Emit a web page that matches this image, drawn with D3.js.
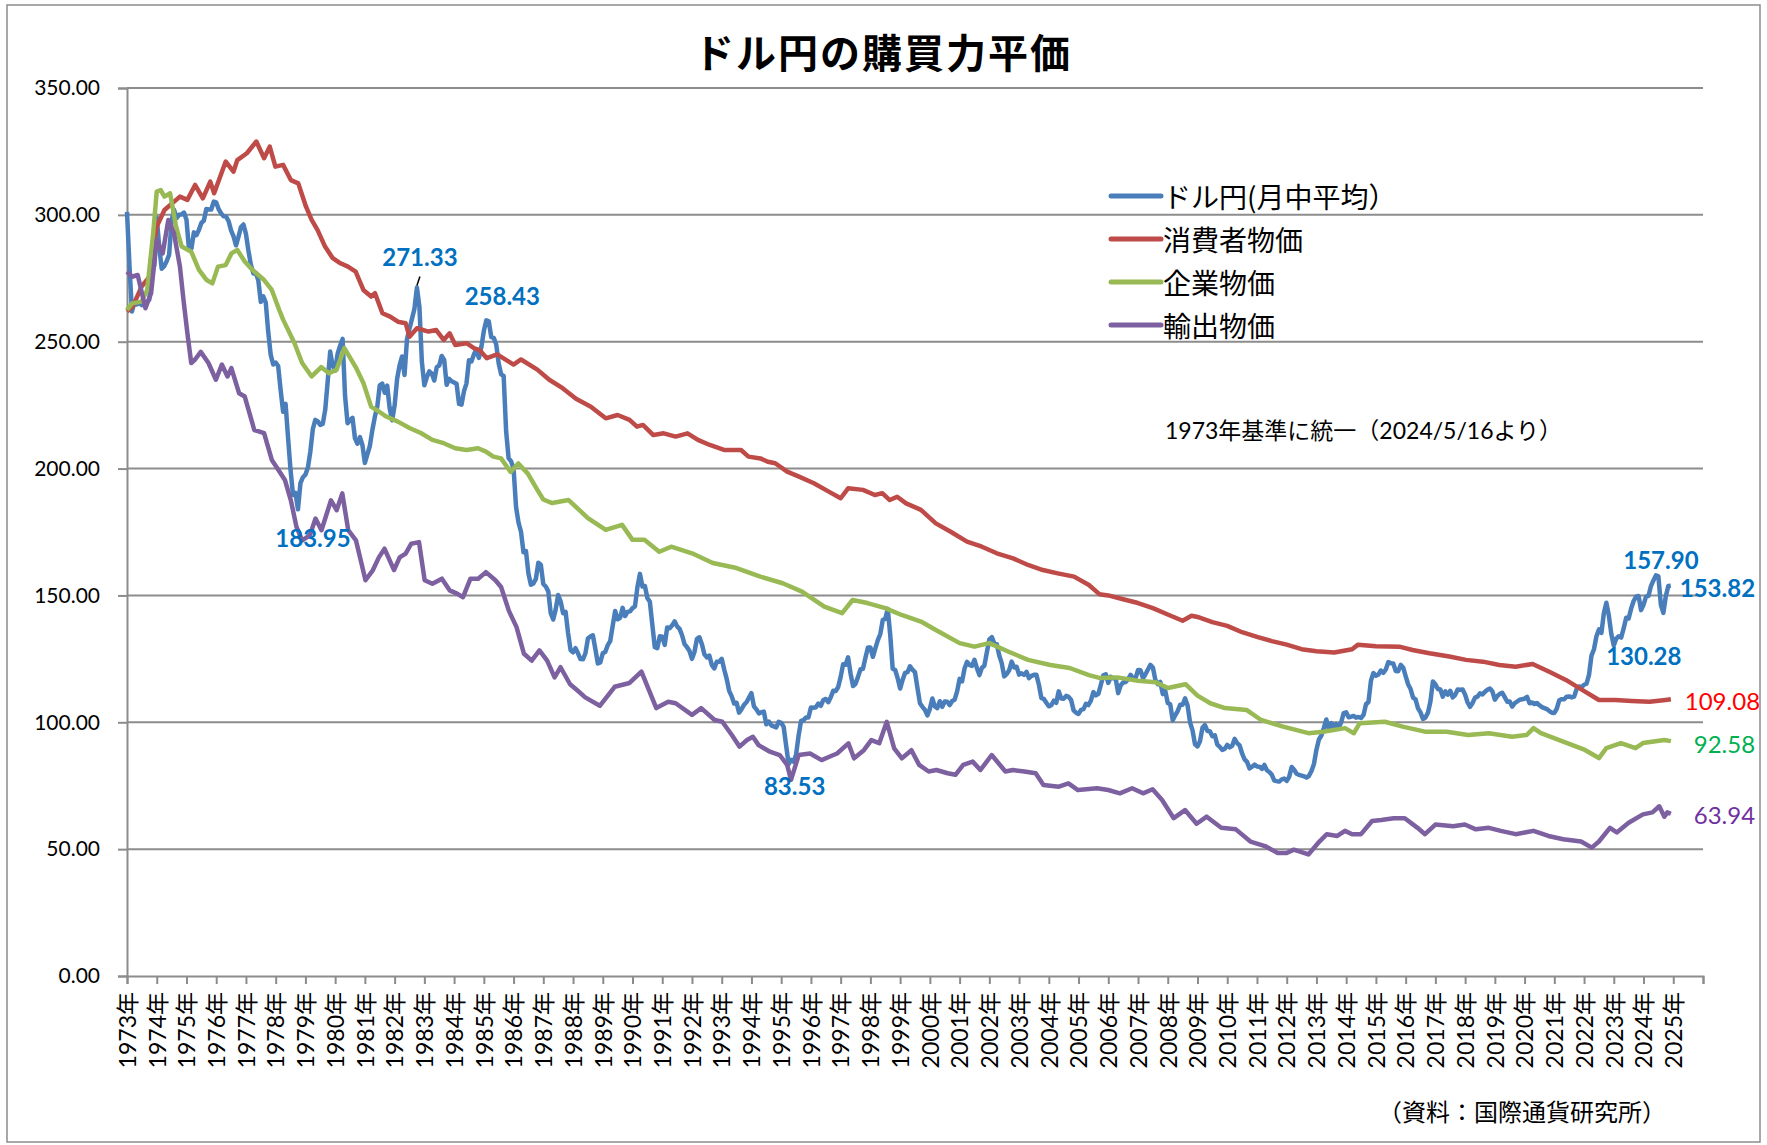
<!DOCTYPE html>
<meta charset="utf-8">
<style>
  body { margin: 0; background: #fff; }
  svg text { font-family: Lato, "Noto Sans CJK JP", sans-serif; }
</style>
<svg width="1767" height="1145"></svg>
<script src="https://d3js.org/d3.v7.min.js"></script>
<script>

// ---- data ----
var title = "ドル円の購買力平価";
var seriesNames = ["ドル円(月中平均）", "消費者物価", "企業物価", "輸出物価"];
var note = "1973年基準に統一（2024/5/16より）";
var source = "（資料：国際通貨研究所）";

var yTicks = [0, 50, 100, 150, 200, 250, 300, 350];
var tickYears = d3.range(1973, 2027);

// ドル円 monthly average, Jan 1973 - Dec 2024
var usdjpy = [
  301.2,280.0,261.9,265.5,264.7,265.4,264.4,265.4,265.5,266.6,279.0,280.0,
  299.0,287.5,278.8,279.8,281.7,284.3,297.7,302.0,298.7,300.0,300.1,300.9,
  298.1,286.5,286.8,293.1,292.0,294.0,296.8,297.7,302.3,302.1,302.1,305.2,
  304.9,302.2,300.6,299.4,299.3,297.5,293.9,291.5,288.0,291.4,295.2,296.2,
  292.5,285.9,280.3,276.9,277.1,274.1,265.7,267.9,265.4,253.8,244.8,241.0,
  241.8,240.4,231.0,222.4,225.5,212.2,199.4,189.6,190.4,183.95,194.3,196.6,
  197.6,200.4,206.8,215.6,219.2,218.6,217.2,217.6,223.2,234.5,246.1,240.5,
  238.6,245.3,248.4,251.1,228.6,217.9,219.0,220.0,211.9,209.8,212.4,209.3,
  202.2,205.6,208.9,215.1,220.3,224.4,232.8,233.5,229.9,232.7,223.8,219.0,
  224.9,235.3,240.7,244.2,236.9,251.1,255.1,259.0,263.0,271.33,263.8,242.0,
  232.8,236.0,238.3,237.5,234.7,240.0,240.6,244.4,242.8,233.0,235.4,234.4,
  233.9,233.4,225.5,225.2,230.5,233.6,242.7,242.2,245.0,246.9,243.6,247.9,
  254.2,258.43,258.0,251.8,251.5,248.9,241.4,237.1,236.5,214.7,204.1,202.8,
  200.1,184.9,178.7,175.1,167.0,167.5,158.6,154.2,154.7,156.5,162.9,162.1,
  154.5,153.5,151.6,143.0,140.5,144.5,150.2,147.6,143.0,143.5,135.2,128.5,
  127.6,129.2,127.2,124.9,124.8,127.2,133.0,133.8,134.3,128.9,123.2,123.6,
  127.2,127.7,130.4,132.0,138.0,143.9,140.6,141.2,145.1,141.9,143.5,143.7,
  145.0,145.7,153.4,158.5,153.5,153.7,149.0,147.5,138.4,129.6,129.2,133.9,
  133.7,130.5,137.4,137.1,138.2,139.8,137.8,136.8,134.3,130.8,129.6,128.1,
  125.0,127.7,132.9,133.5,130.8,126.8,125.6,126.3,122.6,121.2,123.9,123.9,
  125.0,120.8,117.1,112.4,110.3,107.4,107.7,103.8,105.2,106.9,107.9,109.7,
  111.5,106.3,105.1,103.5,104.0,104.2,99.2,100.3,98.8,98.4,98.0,100.2,
  99.8,98.2,90.8,83.53,85.2,84.5,87.2,94.6,100.5,100.8,101.9,101.9,
  105.8,105.7,105.9,107.4,106.5,108.8,109.2,107.9,109.9,112.4,112.3,113.9,
  117.9,122.9,122.7,125.6,119.2,114.3,115.2,117.9,120.9,121.1,125.4,129.5,
  129.5,125.8,129.1,132.4,134.8,140.4,140.7,144.7,134.5,121.1,120.6,117.4,
  113.3,116.7,119.5,119.8,122.1,120.7,119.8,113.5,107.5,106.1,104.9,102.7,
  105.3,109.4,106.3,105.6,108.3,106.1,108.2,108.1,106.8,108.4,108.9,112.2,
  117.1,116.1,121.2,123.8,122.6,122.2,124.6,121.3,118.6,121.5,122.3,127.6,
  132.7,133.6,131.1,130.8,126.3,123.3,118.1,119.0,120.5,123.9,121.6,121.9,
  118.8,119.3,118.7,119.9,117.4,118.3,118.7,118.7,114.8,109.5,109.2,107.7,
  106.3,106.7,108.5,107.7,112.2,109.4,109.3,110.4,110.0,108.8,104.7,103.8,
  103.3,104.9,105.2,107.3,106.8,108.6,111.9,110.6,111.2,114.8,118.5,118.9,
  115.5,117.9,117.3,117.1,111.5,114.6,115.7,115.9,117.0,118.7,117.3,117.3,
  120.6,120.5,117.3,118.9,120.8,122.6,121.6,116.7,115.0,115.9,111.1,112.4,
  107.6,107.1,100.8,102.7,104.4,106.9,106.9,109.4,106.6,100.0,96.8,91.3,
  90.5,92.5,97.8,98.9,96.6,96.5,94.5,94.9,91.2,90.3,89.1,89.5,
  91.1,90.1,90.7,93.5,91.8,90.9,87.7,85.4,84.4,81.8,82.5,83.3,
  82.6,82.5,81.6,83.2,81.1,80.4,79.3,77.0,76.8,76.7,77.5,77.8,
  76.9,78.5,82.4,81.3,79.7,79.3,79.0,78.7,78.2,78.9,80.8,83.6,
  89.2,93.2,94.8,97.8,101.1,97.3,99.7,97.8,99.3,97.8,100.1,103.6,
  103.9,102.0,102.2,102.5,101.8,102.1,101.7,102.9,107.1,108.0,116.4,119.4,
  118.3,118.8,120.4,119.5,120.8,123.7,123.3,123.2,120.2,120.1,122.6,121.6,
  118.2,115.0,113.1,109.7,109.0,105.5,103.9,101.3,101.9,103.8,108.2,116.1,
  115.0,113.1,112.9,110.1,112.2,110.9,112.4,109.8,110.8,112.9,112.8,112.9,
  110.9,107.8,106.1,107.6,109.7,110.1,111.4,111.0,112.0,112.8,113.3,112.2,
  108.9,110.4,111.2,111.6,109.9,108.1,108.2,106.2,107.5,108.2,108.9,109.1,
  109.3,110.0,107.5,107.8,107.2,107.6,106.7,106.0,105.6,105.2,104.4,103.8,
  103.7,105.4,108.7,109.1,109.1,110.1,110.2,109.8,110.1,113.1,114.1,113.8,
  114.8,115.2,118.7,126.3,128.8,133.9,136.6,135.2,143.1,147.1,142.1,134.8,
  130.28,133.0,133.9,133.4,137.1,141.2,140.9,144.8,147.8,149.5,149.8,144.2,
  146.3,149.5,149.8,153.7,155.9,157.9,157.5,146.3,143.1,149.7,153.7,153.82
];

// [year, value]
var cpiPPP = [[1973.0,261.9],[1973.2,264],[1973.49,271.7],[1973.75,275.6],[1974.0,295.4],[1974.26,301.9],[1974.78,307.2],[1975.03,305.9],[1975.29,311.8],[1975.55,306.5],[1975.8,313.1],[1975.93,308.5],[1976.32,321.0],[1976.58,317.0],[1976.71,321.6],[1977.03,324.3],[1977.35,328.9],[1977.61,322.3],[1977.8,326.9],[1977.99,319.0],[1978.25,319.7],[1978.51,313.7],[1978.76,312.4],[1979.02,303.2],[1979.21,298.0],[1979.41,294.0],[1979.66,287.5],[1979.92,282.9],[1980.18,280.9],[1980.43,279.6],[1980.69,277.6],[1980.95,270.4],[1981.21,267.8],[1981.34,269.1],[1981.59,261.2],[1981.85,259.9],[1982.11,257.9],[1982.37,257.3],[1982.5,252.0],[1982.75,255.3],[1983.14,254.0],[1983.4,254.6],[1983.65,250.7],[1983.85,253.3],[1984.04,248.7],[1984.42,249.4],[1984.68,247.4],[1984.85,246.8],[1985.1,243.5],[1985.45,245.0],[1986.0,241.0],[1986.25,243.0],[1986.8,239.0],[1987.2,235.0],[1987.65,231.7],[1988.1,227.5],[1988.6,224.4],[1989.1,219.8],[1989.5,221.1],[1989.9,219.2],[1990.15,216.5],[1990.35,217.2],[1990.7,213.2],[1991.05,213.9],[1991.45,212.6],[1991.85,213.9],[1992.2,211.3],[1992.6,209.3],[1993.1,207.3],[1993.65,207.3],[1993.9,204.7],[1994.3,204.0],[1994.55,202.7],[1994.8,202.1],[1995.2,198.8],[1995.6,196.8],[1996.1,194.2],[1996.6,190.9],[1997.0,188.3],[1997.25,192.2],[1997.75,191.6],[1998.15,189.6],[1998.4,190.3],[1998.65,187.6],[1998.9,188.9],[1999.2,186.3],[1999.7,183.7],[2000.2,178.4],[2000.7,175.1],[2001.25,171.2],[2001.75,169.2],[2002.25,166.6],[2002.8,164.6],[2003.3,162.0],[2003.8,160.0],[2004.3,158.7],[2004.85,157.4],[2005.35,154.1],[2005.7,150.5],[2006.0,150.0],[2006.5,148.5],[2007.0,147.0],[2007.5,145.0],[2008.0,142.5],[2008.5,140.0],[2008.8,142.0],[2009.0,141.5],[2009.5,139.5],[2010.0,138.0],[2010.5,135.5],[2011.0,133.7],[2011.5,132.0],[2012.0,130.6],[2012.5,128.8],[2013.0,128.0],[2013.6,127.5],[2014.2,128.8],[2014.4,130.6],[2015.0,130.0],[2015.79,129.8],[2016.23,128.5],[2016.8,127.2],[2017.47,125.9],[2018.03,124.6],[2018.6,123.9],[2019.15,122.6],[2019.7,121.9],[2020.27,123.0],[2020.83,119.9],[2021.39,116.7],[2021.95,112.7],[2022.5,108.8],[2023.06,108.8],[2023.6,108.4],[2024.2,108.1],[2024.74,108.8],[2024.92,109.08]];

var ppiPPP = [[1973.0,262.5],[1973.17,265.1],[1973.49,265.8],[1973.68,270.4],[1973.88,292.7],[1974.0,309.2],[1974.13,309.8],[1974.26,307.2],[1974.45,308.5],[1974.65,295.4],[1974.84,287.5],[1975.16,285.5],[1975.42,278.3],[1975.68,274.3],[1975.87,273.0],[1976.06,279.6],[1976.32,280.2],[1976.51,284.8],[1976.71,286.2],[1976.96,281.6],[1977.22,278.3],[1977.61,274.3],[1977.87,270.4],[1978.12,262.5],[1978.25,258.7],[1978.63,249.5],[1978.89,241.6],[1979.21,236.3],[1979.53,240.0],[1979.79,237.6],[1980.05,239.0],[1980.31,247.5],[1980.69,240.0],[1980.95,233.7],[1981.21,224.4],[1981.47,222.5],[1981.72,220.5],[1982.11,218.5],[1982.5,216.0],[1982.88,214.0],[1983.27,211.3],[1983.65,210.0],[1984.04,208.0],[1984.42,207.3],[1984.81,208.0],[1985.07,206.7],[1985.32,204.7],[1985.58,204.0],[1985.9,198.7],[1986.16,202.0],[1986.48,198.0],[1986.8,191.6],[1987.0,187.8],[1987.3,186.4],[1987.85,187.6],[1988.5,180.5],[1989.1,175.8],[1989.65,177.8],[1990.0,171.9],[1990.4,171.9],[1990.9,167.2],[1991.3,169.2],[1992.0,166.6],[1992.7,162.8],[1993.5,160.8],[1994.3,157.4],[1995.05,154.8],[1995.7,151.5],[1996.45,145.6],[1997.05,143.0],[1997.4,148.2],[1997.9,147.0],[1998.5,145.0],[1999.05,142.3],[1999.7,139.7],[2000.2,136.4],[2001.0,131.2],[2001.5,129.8],[2002.0,131.2],[2002.65,127.8],[2003.3,124.6],[2004.05,122.6],[2004.7,121.4],[2005.35,118.6],[2005.7,117.5],[2006.3,117.7],[2007.0,116.4],[2007.6,115.8],[2008.0,113.5],[2008.6,115.0],[2009.0,110.5],[2009.43,107.5],[2009.92,105.6],[2010.66,104.8],[2011.14,100.9],[2011.88,98.3],[2012.73,95.7],[2013.23,96.3],[2013.96,97.7],[2014.26,95.7],[2014.45,99.6],[2015.3,100.2],[2015.9,98.3],[2016.65,96.3],[2017.38,96.3],[2018.1,95.0],[2018.8,95.7],[2019.58,94.3],[2020.07,95.0],[2020.3,97.7],[2020.55,95.7],[2021.3,92.4],[2022.03,89.1],[2022.5,85.9],[2022.75,89.8],[2023.24,91.8],[2023.73,89.8],[2023.98,91.8],[2024.7,93.0],[2024.92,92.58]];

var exportPPP = [[1973.0,277.6],[1973.17,275.6],[1973.36,276.3],[1973.62,263.2],[1973.81,269.1],[1974.0,290.1],[1974.2,284.8],[1974.39,298.0],[1974.58,292.7],[1974.78,279.6],[1974.9,266.4],[1975.03,253.4],[1975.16,241.6],[1975.29,243.0],[1975.48,246.0],[1975.74,241.6],[1975.99,235.0],[1976.19,241.0],[1976.38,236.3],[1976.51,239.6],[1976.77,229.7],[1976.96,228.4],[1977.28,215.2],[1977.61,214.0],[1977.87,203.4],[1978.06,200.0],[1978.31,195.5],[1978.51,187.5],[1978.7,177.0],[1978.89,171.7],[1979.15,173.7],[1979.34,180.3],[1979.54,175.7],[1979.86,187.5],[1980.05,183.6],[1980.24,190.2],[1980.44,175.7],[1980.7,171.7],[1981.02,156.0],[1981.27,160.0],[1981.47,165.0],[1981.66,168.4],[1981.98,160.0],[1982.17,165.0],[1982.37,166.5],[1982.56,170.4],[1982.82,171.0],[1983.01,156.0],[1983.27,154.6],[1983.59,156.6],[1983.85,152.0],[1984.1,150.7],[1984.3,149.3],[1984.55,156.6],[1984.81,156.6],[1985.07,159.2],[1985.39,156.0],[1985.58,153.3],[1985.84,144.0],[1986.1,137.5],[1986.35,127.0],[1986.61,124.3],[1986.87,128.3],[1987.13,124.3],[1987.38,117.7],[1987.58,121.7],[1987.9,115.0],[1988.15,112.5],[1988.41,109.8],[1988.9,106.5],[1989.4,114.0],[1989.9,115.5],[1990.3,120.0],[1990.8,105.6],[1991.2,108.1],[1991.45,107.5],[1992.0,102.9],[1992.31,105.6],[1992.76,100.9],[1993.02,100.2],[1993.34,95.0],[1993.6,90.4],[1993.85,93.0],[1994.05,94.3],[1994.24,91.0],[1994.62,88.4],[1994.95,87.1],[1995.2,83.2],[1995.33,77.3],[1995.59,87.1],[1995.97,87.7],[1996.36,85.1],[1996.62,86.4],[1996.88,87.7],[1997.26,91.7],[1997.45,85.8],[1997.78,89.0],[1998.03,93.0],[1998.3,91.8],[1998.55,100.2],[1998.8,89.7],[1999.06,85.8],[1999.38,89.0],[1999.64,83.2],[1999.96,80.6],[2000.22,81.2],[2000.6,79.9],[2000.86,79.3],[2001.12,83.2],[2001.44,84.5],[2001.7,81.2],[2002.08,87.1],[2002.54,80.6],[2002.79,81.2],[2003.18,80.6],[2003.56,79.9],[2003.82,75.3],[2004.34,74.6],[2004.66,75.9],[2004.98,73.3],[2005.62,74.0],[2006.0,73.3],[2006.39,72.0],[2006.8,74.0],[2007.17,72.0],[2007.49,73.6],[2007.81,69.4],[2008.2,62.2],[2008.58,65.4],[2008.97,60.0],[2009.31,62.8],[2009.8,58.4],[2010.29,57.8],[2010.78,53.0],[2011.27,51.2],[2011.7,48.5],[2012.0,48.5],[2012.24,49.8],[2012.73,47.9],[2013.1,53.0],[2013.35,55.9],[2013.7,55.2],[2013.96,57.2],[2014.2,55.9],[2014.5,55.9],[2014.87,61.1],[2015.18,61.5],[2015.6,62.2],[2015.97,62.2],[2016.4,58.4],[2016.65,55.9],[2017.0,59.7],[2017.6,59.0],[2017.99,59.7],[2018.36,57.8],[2018.8,58.4],[2019.2,57.2],[2019.7,55.9],[2020.3,57.2],[2020.8,55.2],[2021.3,53.9],[2021.9,53.0],[2022.26,50.6],[2022.5,53.0],[2022.87,58.4],[2023.1,56.6],[2023.5,60.4],[2023.98,63.7],[2024.3,64.5],[2024.53,66.9],[2024.7,62.8],[2024.8,64.5],[2024.92,63.94]];

// ---- chart ----
var svg = d3.select("svg"),
    width = 1767,
    height = 1145;

var x = d3.scaleLinear().domain([1973, 2026]).range([127, 1703]);
var y = d3.scaleLinear().domain([0, 350]).range([976, 88]);

var colors = ["#4a7ebb", "#be4b48", "#98b954", "#7d60a0"];
var labelColors = ["#0070c0", "#ff0000", "#00b050", "#7030a0"];
var gridColor = "#8c8c8c";

svg.append("rect")
    .attr("x", 7).attr("y", 5)
    .attr("width", width - 14).attr("height", height - 8)
    .attr("fill", "#fff")
    .attr("stroke", gridColor).attr("stroke-width", 1.5);

svg.append("text")
    .attr("x", 883).attr("y", 51)
    .attr("text-anchor", "middle")
    .attr("dominant-baseline", "central")
    .style("font-family", "'Noto Sans CJK JP'")
    .style("font-size", "40px")
    .style("font-weight", "bold")
    .style("letter-spacing", "2px")
    .style("fill", "#000")
    .text(title);

// gridlines
svg.append("g")
  .selectAll("line")
  .data(yTicks.slice(1))
  .join("line")
    .attr("x1", x(1973)).attr("x2", x(2026))
    .attr("y1", function(d) { return y(d); })
    .attr("y2", function(d) { return y(d); })
    .attr("stroke", gridColor).attr("stroke-width", 2);

// y axis
var yAxis = svg.append("g")
    .attr("transform", "translate(" + x(1973) + ",0)")
    .call(d3.axisLeft(y).tickValues(yTicks).tickFormat(d3.format(".2f")).tickSize(9).tickPadding(18));
yAxis.selectAll("path, line").attr("stroke", gridColor).attr("stroke-width", 2);
yAxis.selectAll("text").style("font-size", "21px").style("fill", "#000");

// x axis
var xAxis = svg.append("g")
    .attr("transform", "translate(0," + y(0) + ")")
    .call(d3.axisBottom(x).tickValues(tickYears)
      .tickFormat(function(d) { return d < 2026 ? d + "年" : ""; })
      .tickSize(8));
xAxis.selectAll("path, line").attr("stroke", gridColor).attr("stroke-width", 2);
xAxis.selectAll("text")
    .attr("transform", "rotate(-90)")
    .attr("x", -16).attr("y", 0).attr("dy", "0.36em")
    .style("text-anchor", "end")
    .style("font-size", "23px")
    .style("fill", "#000");

// lines
var line = d3.line()
    .x(function(d) { return x(d[0]); })
    .y(function(d) { return y(d[1]); });

var blue = usdjpy.map(function(v, i) { return [1973 + i / 12, v]; });
var series = [blue, cpiPPP, ppiPPP, exportPPP];

svg.append("g")
  .selectAll("path")
  .data(series)
  .join("path")
    .attr("d", line)
    .attr("fill", "none")
    .attr("stroke", function(d, i) { return colors[i]; })
    .attr("stroke-width", 4.5)
    .attr("stroke-linejoin", "round");

// legend
var legend = svg.append("g")
  .selectAll("g")
  .data(seriesNames)
  .join("g")
    .attr("transform", function(d, i) { return "translate(1111," + (196 + i * 43) + ")"; });
legend.append("line")
    .attr("x1", 0).attr("x2", 50)
    .attr("stroke", function(d, i) { return colors[i]; })
    .attr("stroke-width", 5)
    .attr("stroke-linecap", "round");
legend.append("text")
    .attr("x", 52)
    .attr("dominant-baseline", "central")
    .style("font-family", "'Noto Sans CJK JP'")
    .style("font-size", "28px")
    .style("fill", "#000")
    .text(function(d) { return d; });

svg.append("text")
    .attr("x", 1165).attr("y", 430)
    .attr("dominant-baseline", "central")
    .style("font-size", "23px")
    .style("fill", "#000")
    .text(note);

svg.append("text")
    .attr("x", 1666).attr("y", 1110)
    .attr("text-anchor", "end")
    .attr("dominant-baseline", "central")
    .style("font-family", "'Noto Sans CJK JP'")
    .style("font-size", "24px")
    .style("fill", "#000")
    .text(source);

// value labels: [year, value, dx, dy, anchor, colour index]
var blueMarks = [
  [1982 + 9 / 12, 271.33, 3, -31, "middle"],
  [1985 + 1 / 12, 258.43, 16, -25, "middle"],
  [1978 + 9 / 12, 183.95, 15, 28, "middle"],
  [1995 + 3 / 12, 83.53, 6, 21, "middle"],
  [2024 + 5 / 12, 157.90, 5, -16, "middle"],
  [2024 + 11 / 12, 153.82, 9, 2, "start"],
  [2023, 130.28, 30, 10, "middle"]
];
var endMarks = [
  [2024 + 11 / 12, 109.08, 14, 1, "start", 1],
  [2024 + 11 / 12, 92.58, 23, 2, "start", 2],
  [2024 + 11 / 12, 63.94, 23, 1, "start", 3]
];

svg.append("g")
  .selectAll("text")
  .data(blueMarks.map(function(d) { return d.concat([0]); }).concat(endMarks))
  .join("text")
    .attr("x", function(d) { return x(d[0]) + d[2]; })
    .attr("y", function(d) { return y(d[1]) + d[3]; })
    .attr("text-anchor", function(d) { return d[4]; })
    .attr("dominant-baseline", "central")
    .style("font-size", "24px")
    .style("font-weight", function(d) { return d[5] === 0 ? "bold" : "normal"; })
    .style("fill", function(d) { return labelColors[d[5]]; })
    .text(function(d) { return d[1].toFixed(2); });

// leader for the 1982 peak
var pk = blueMarks[0];
svg.append("line")
    .attr("x1", x(pk[0])).attr("y1", y(pk[1]) - 2)
    .attr("x2", x(pk[0]) + 3).attr("y2", y(pk[1]) - 11)
    .attr("stroke", "#000").attr("stroke-width", 1.5);

</script>
